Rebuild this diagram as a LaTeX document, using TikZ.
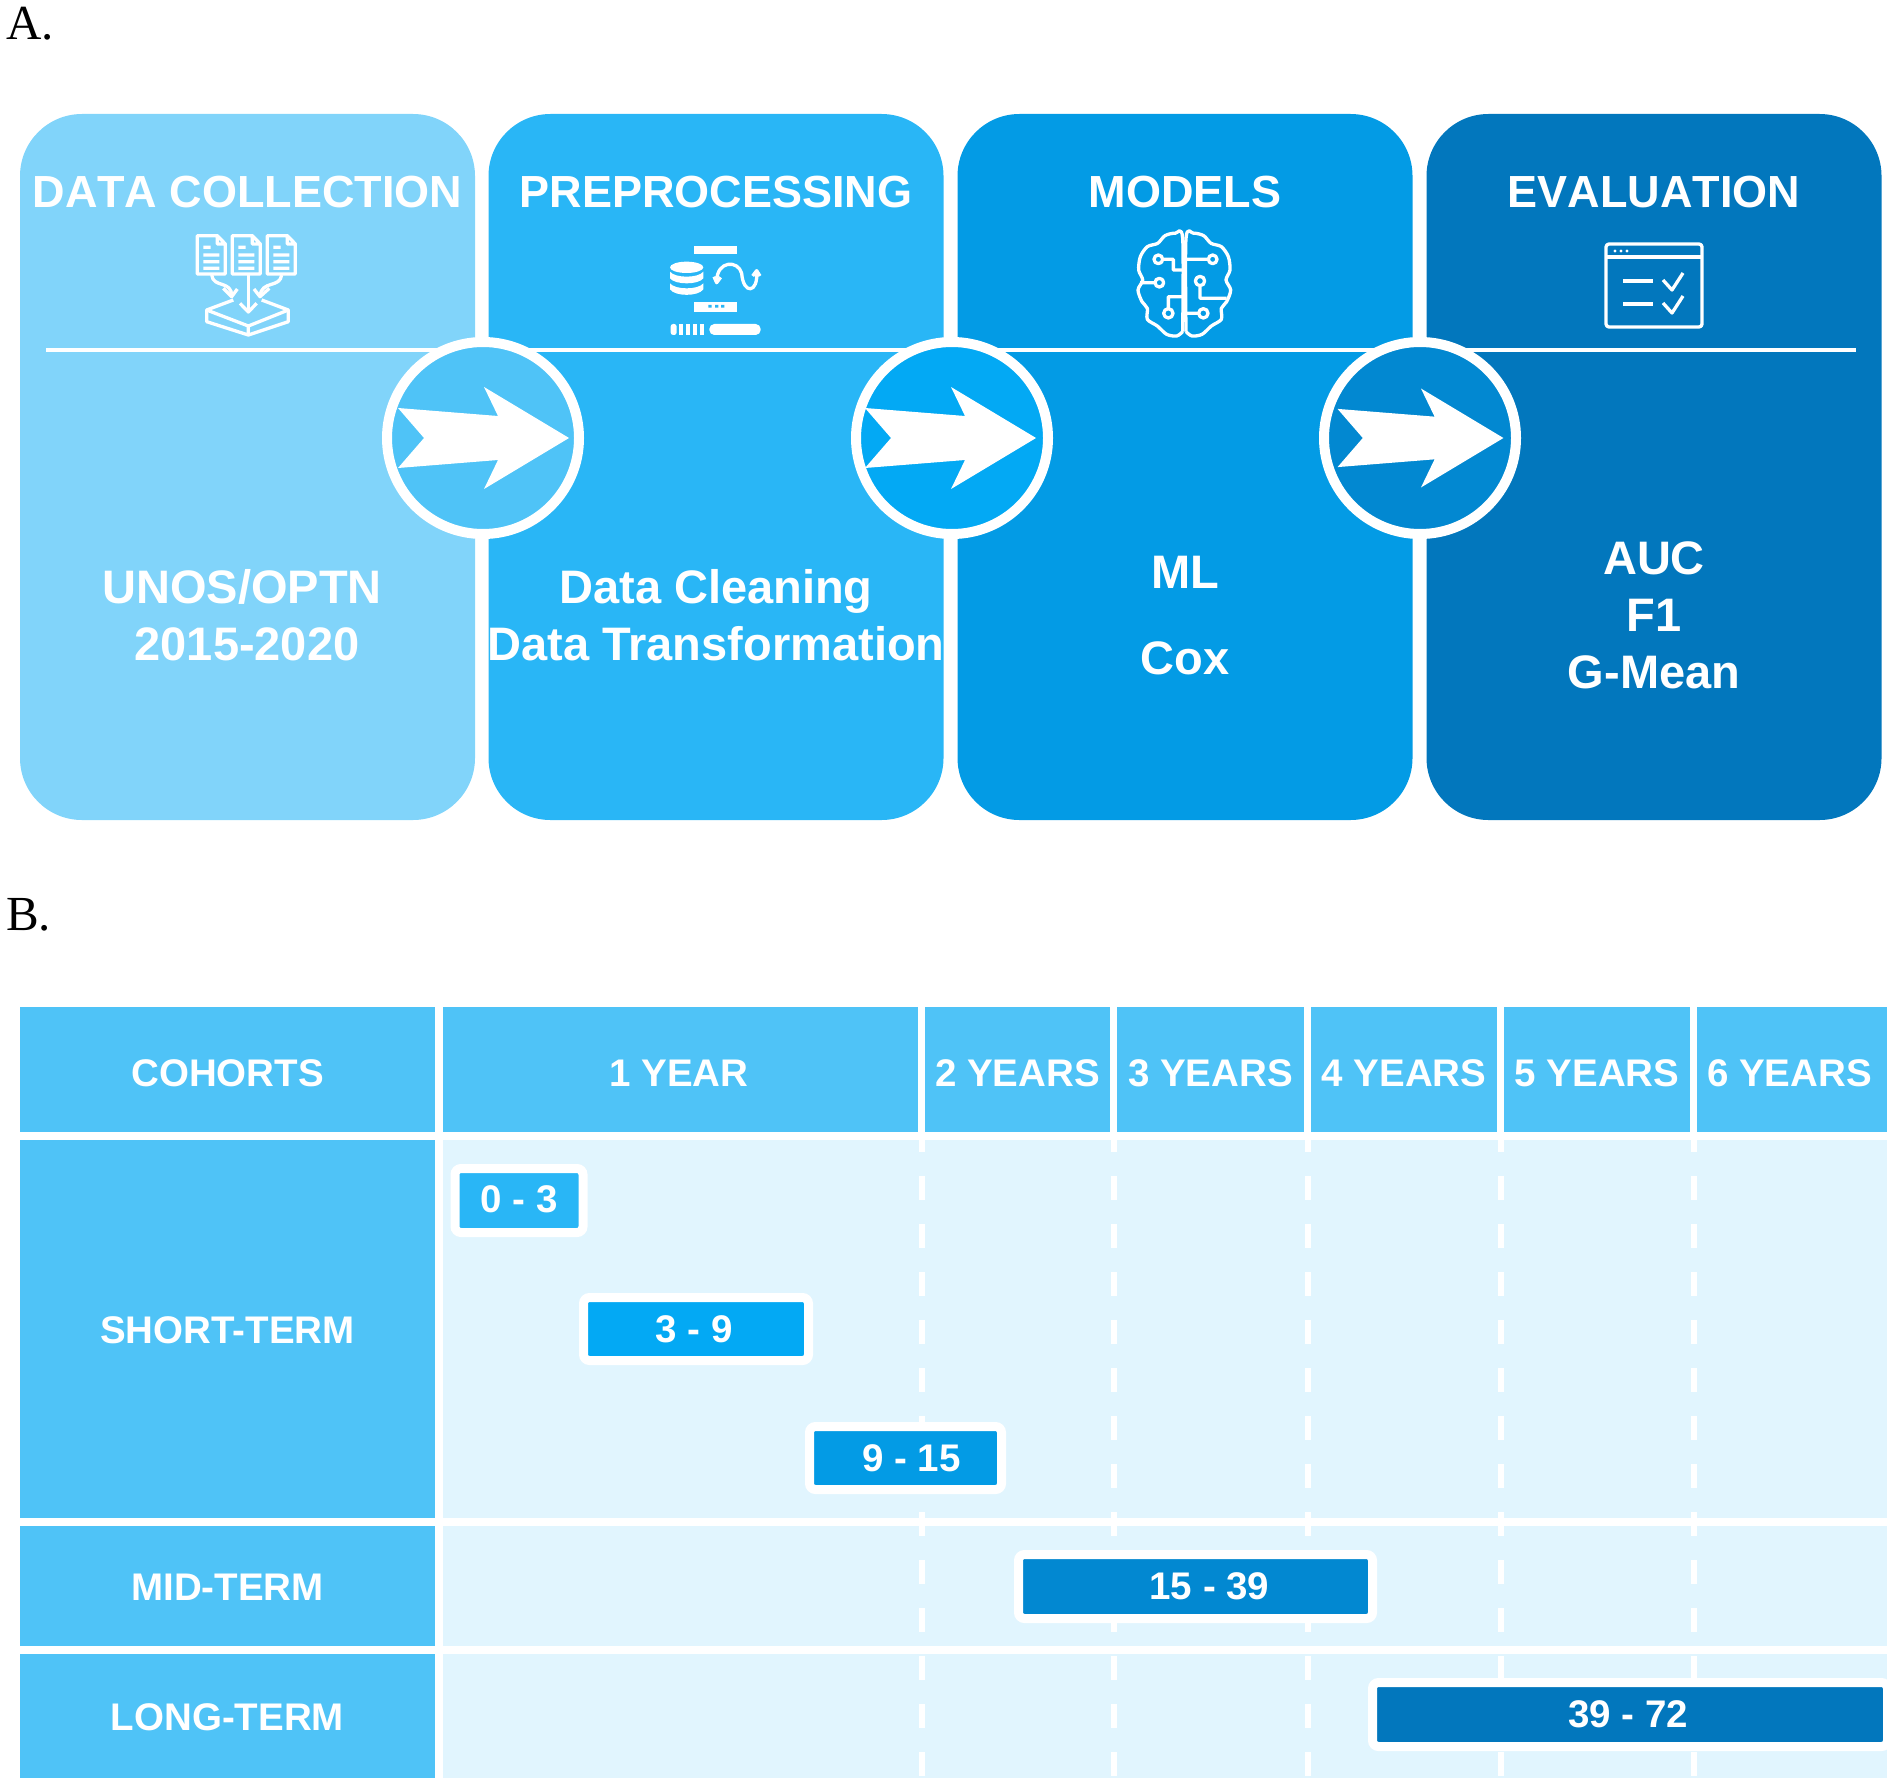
\documentclass[tikz,border=0pt]{standalone}
\usepackage{fontspec}
\setmainfont{Liberation Sans}
\newfontfamily\partfont{Liberation Serif}
\newfontfamily\titlefont[Kerning=Off]{Liberation Sans}
\definecolor{cardA}{HTML}{81D4FA}
\definecolor{cardB}{HTML}{29B6F6}
\definecolor{cardC}{HTML}{039BE5}
\definecolor{cardD}{HTML}{0277BD}
\definecolor{headblue}{HTML}{4FC3F7}
\definecolor{paleblue}{HTML}{E1F5FE}
\definecolor{ringB}{HTML}{03A9F4}
\definecolor{ringC}{HTML}{0288D1}
\newcommand{\flowarrow}[2]{\fill[white,shift={#1},scale=#2] (-85,-30) -- (-59,0) -- (-85,30) -- (15,22) -- (1,51) -- (86,0) -- (1,-51) -- (15,-22) -- cycle;}
\tikzset{
  card/.style={fill=#1, rounded corners=62pt, minimum width=455pt, minimum height=706pt, inner sep=0pt},
  titletext/.style={text=white, font=\fontsize{45}{54}\selectfont\titlefont\bfseries, inner sep=0pt},
  bodytext/.style={text=white, font=\fontsize{47}{57}\selectfont\bfseries, align=center, inner sep=0pt},
  ring/.style={circle, draw=white, line width=10pt, fill=#1, minimum size=192pt, inner sep=0pt},
  headcell/.style={fill=headblue, text=white, font=\fontsize{38.5}{46}\selectfont\bfseries, inner sep=0pt, text height=28pt, text depth=0pt},
  yearcell/.style={headcell, text height=34pt, minimum height=125pt},
  rowband/.style={fill=paleblue, minimum width=1444pt, inner sep=0pt},
  barbox/.style={fill=#1, draw=white, line width=9pt, rounded corners=6pt, text=white, font=\fontsize{38.5}{46}\selectfont\bfseries, inner sep=0pt},
  gridline/.style={white, line width=6pt, dash pattern=on 24pt off 24pt},
  icon/.style={draw=white, line width=3.3pt, line join=round},
  iconfill/.style={fill=white, draw=none}
}
\begin{document}
\begin{tikzpicture}[x=1pt, y=-1pt]
    \useasboundingbox (0,0) rectangle (1902,1787);

    \node[anchor=base west, inner sep=0pt, font=\fontsize{49}{52}\selectfont\partfont] (parta) at (6,40) {A.};
    \node[anchor=base west, inner sep=0pt, font=\fontsize{49}{52}\selectfont\partfont] (partb) at (6,930) {B.};

    \node[card=cardA] (card1) at (247.5,467) {};
    \node[card=cardB] (card2) at (716,467) {};
    \node[card=cardC] (card3) at (1185,467) {};
    \node[card=cardD] (card4) at (1654,467) {};

    \node[titletext] (title1) at (247.5,192) {DATA COLLECTION};
    \node[titletext] (title2) at (716,192) {PREPROCESSING};
    \node[titletext] (title3) at (1185,192) {MODELS};
    \node[titletext] (title4) at (1654,192) {EVALUATION};

    \node[bodytext] (body1) at (247,615) {UNOS/OPTN\hspace*{10pt}\\2015-2020};
    \node[bodytext] (body2) at (716,615) {Data Cleaning\\Data Transformation};
    \node[bodytext, font=\fontsize{47}{86}\selectfont\bfseries] (body3) at (1185,616) {ML\\Cox};
    \node[bodytext] (body4) at (1654,615) {AUC\\F1\\G-Mean};

    \draw[white, line width=3.5pt] (46,350) -- (1856,350);

    \node[ring=headblue] (ring1) at (483,438) {};
    \node[ring=ringB] (ring2) at (952,438) {};
    \node[ring=ringC] (ring3) at (1420,438) {};
    \flowarrow{(ring1.center)}{1}
    \flowarrow{([xshift=-2pt]ring2.center)}{1}
    \flowarrow{(ring3.center)}{.97}

    \begin{scope}[shift={(180,220)}, scale=1/3]
        \foreach \x in {0,105,210}
            \draw[icon, shift={(\x,0)}] (52,162) -- (52,47) -- (112,47) -- (136,72) -- (136,162) -- cycle (112,47) -- (112,72) -- (136,72)
                (70,82) -- (92,82) (70,105) -- (118,105) (70,125) -- (118,125) (70,145) -- (118,145);
        \draw[icon] (205,165) -- (205,275);
        \draw[icon] (180,250) -- (205,276) -- (230,250);
        \draw[icon] (95,165) .. controls (100,205) and (155,180) .. (155,228);
        \draw[icon] (130,205) -- (155,230) -- (172,207);
        \draw[icon] (305,165) .. controls (300,205) and (245,180) .. (240,228);
        \draw[icon] (222,207) -- (240,230) -- (268,205);
        \draw[icon] (160,240) -- (80,270) -- (205,318) -- (325,270) -- (245,240);
        \draw[icon] (80,270) -- (80,305) -- (205,345) -- (325,305) -- (325,270) (205,318) -- (205,345);
    \end{scope}

    \begin{scope}[shift={(650,230)}, scale=1/3]
        \fill[iconfill] (133,47) rectangle (262,73);
        \fill[iconfill] (133,215) rectangle (262,245);
        \fill[cardB] (175,225) rectangle ++(10,8) (195,225) rectangle ++(10,8) (213,225) rectangle ++(10,8);
        \fill[iconfill] (110,112) ellipse [x radius=50, y radius=17];
        \fill[iconfill] (60,125) .. controls (75,145) and (145,145) .. (160,125) -- (160,145) .. controls (145,165) and (75,165) .. (60,145) -- cycle;
        \fill[iconfill] (60,160) .. controls (75,180) and (145,180) .. (160,160) -- (160,178) .. controls (145,200) and (75,200) .. (60,178) -- cycle;
        \draw[icon] (200,155) .. controls (200,90) and (265,90) .. (275,130) .. controls (280,195) and (325,190) .. (320,125);
        \draw[icon] (192,140) -- (200,158) -- (212,142);
        \draw[icon] (308,138) -- (320,122) -- (330,138);
        \fill[iconfill, rounded corners=5pt] (178,282) rectangle (332,315);
        \fill[iconfill, rounded corners=2.5pt] (62,282) rectangle (80,315);
        \foreach \x in {88,108,130,150}
            \fill[iconfill] (\x,282) rectangle ++(12,33);
    \end{scope}

    \begin{scope}[shift={(1120,220)}, scale=1/3]
        \draw[icon] plot[smooth] coordinates {(188,335) (170,348) (140,343) (112,318) (82,298) (82,265) (66,245) (54,210) (68,180) (56,150) (61,110) (82,80) (113,70) (135,47) (165,40) (188,55) (188,335)};
        \draw[icon] plot[smooth] coordinates {(198,335) (216,348) (246,343) (274,318) (304,298) (304,265) (320,245) (332,210) (318,180) (330,150) (325,110) (304,80) (273,70) (251,47) (221,40) (198,55) (198,335)};
        \draw[icon] (115,118) circle [radius=13] (128,118) -- (160,118) -- (160,150) -- (188,150);
        \draw[icon] (118,188) circle [radius=13] (60,188) -- (105,188);
        \draw[icon] (145,280) circle [radius=14] (145,266) -- (145,230) -- (188,230);
        \draw[icon] (278,118) circle [radius=13] (198,118) -- (265,118);
        \draw[icon] (240,183) circle [radius=14] (240,197) -- (240,235) -- (320,235);
        \draw[icon] (250,280) circle [radius=14] (198,280) -- (236,280);
    \end{scope}

    \draw[icon, rounded corners=3pt] (1606,244) rectangle (1702,327);
    \draw[icon] (1606,257) -- (1702,257);
    \fill[iconfill] (1615,251) circle (1.7) (1621,251) circle (1.7) (1627,251) circle (1.7);
    \draw[icon] (1623,281) -- (1653,281) (1623,304) -- (1653,304);
    \draw[icon] (1663,280) -- (1672,290) -- (1683,273);
    \draw[icon] (1663,303) -- (1672,313) -- (1683,296);

    \node[yearcell, minimum width=415pt] (cohorts) at (227.5,1069.5) {COHORTS};
    \node[yearcell, minimum width=475pt] (year1) at (680.5,1069.5) {1 YEAR\hspace*{3pt}};
    \node[yearcell, minimum width=185pt] (year2) at (1017.5,1069.5) {2 YEARS};
    \node[yearcell, minimum width=187pt] (year3) at (1210.5,1069.5) {3 YEARS};
    \node[yearcell, minimum width=186pt] (year4) at (1404,1069.5) {4 YEARS};
    \node[yearcell, minimum width=186pt] (year5) at (1597,1069.5) {5 YEARS};
    \node[yearcell, minimum width=190pt] (year6) at (1792,1069.5) {6 YEARS\hspace*{5pt}};

    \node[headcell, minimum width=415pt, minimum height=378pt] (short) at (227.5,1329) {SHORT-TERM};
    \node[headcell, minimum width=415pt, minimum height=120pt] (mid) at (227.5,1586) {MID-TERM};
    \node[headcell, minimum width=415pt, minimum height=124pt] (long) at (227.5,1716) {LONG-TERM};

    \node[rowband, minimum height=378pt] (band1) at (1165,1329) {};
    \node[rowband, minimum height=120pt] (band2) at (1165,1586) {};
    \node[rowband, minimum height=124pt] (band3) at (1165,1716) {};

    \foreach \x in {921.5,1113.5,1307.5,1500.5,1693.5}
        \draw[gridline] (\x,1128) -- (\x,1778);

    \node[barbox=cardB, minimum width=128pt, minimum height=64pt] (bar1) at (519,1200.5) {\raisebox{2pt}{0 - 3}};
    \node[barbox=ringB, minimum width=225pt, minimum height=63pt] (bar2) at (696,1329) {\hspace*{-4pt}3 - 9};
    \node[barbox=cardC, minimum width=192pt, minimum height=63pt] (bar3) at (905.5,1458) {\hspace*{12pt}9 - 15};
    \node[barbox=ringC, minimum width=354pt, minimum height=64pt] (bar4) at (1195.5,1586.5) {\hspace*{28pt}15 - 39};
    \node[barbox=cardD, minimum width=515pt, minimum height=64pt] (bar5) at (1630,1714.5) {\hspace*{-4pt}39 - 72};
\end{tikzpicture}
\end{document}
